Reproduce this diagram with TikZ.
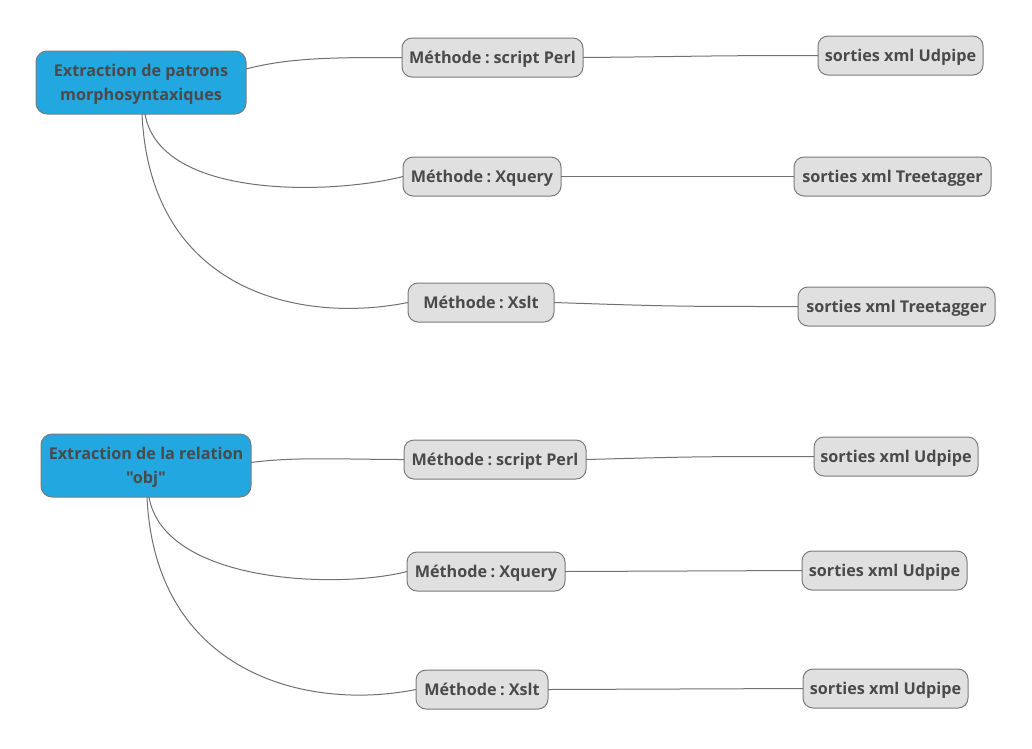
\documentclass[tikz,border=0pt]{standalone}
\usepackage{fontspec}
\newfontfamily\diagfont{Open Sans}
\newcommand{\colsep}{\hspace{3.5pt}:\hspace{4pt}}
\definecolor{txt}{HTML}{4A4A4A}
\definecolor{rootfill}{HTML}{22A7E0}
\definecolor{leaffill}{HTML}{E0E0E0}
\definecolor{bord}{HTML}{7A7A7A}
\definecolor{edge}{HTML}{707070}
\begin{document}
\begin{tikzpicture}[x=1pt,y=-1pt,
  every node/.style={font=\diagfont\fontsize{16.2}{24}\selectfont\bfseries, text=txt, inner sep=0pt, outer sep=0pt},
  rootbox/.style={draw=bord, line width=1pt, fill=rootfill, rounded corners=11pt, minimum height=63pt, align=center, text depth=0pt},
  leafbox/.style={draw=bord, line width=1pt, fill=leaffill, rounded corners=10pt, minimum height=39pt, align=center,
    text height=13pt, text depth=1pt},
  conn/.style={draw=edge, line width=1pt}]
\useasboundingbox (0,0) rectangle (1032,748);
% top tree
\node[rootbox, minimum width=210pt] (r1) at (141,82.5) {Extraction de patrons\\morphosyntaxiques};
\node[leafbox, minimum width=181pt] (m11) at (492.5,57.5) {Méthode\colsep script Perl};
\node[leafbox, minimum width=165pt] (s11) at (900.5,55.5) {sorties xml Udpipe};
\node[leafbox, minimum width=158pt] (m12) at (482,176.5) {Méthode\colsep Xquery};
\node[leafbox, minimum width=197pt] (s12) at (892.5,176.5) {sorties xml Treetagger};
\node[leafbox, minimum width=146pt] (m13) at (481,302.5) {Méthode\colsep Xslt};
\node[leafbox, minimum width=197pt] (s13) at (896.5,306.5) {sorties xml Treetagger};
% bottom tree
\node[rootbox, minimum width=210pt] (r2) at (146,465.5) {Extraction de la relation\\"obj"};
\node[leafbox, minimum width=182pt] (m21) at (495,459.5) {Méthode\colsep script Perl};
\node[leafbox, minimum width=164pt] (s21) at (896,456.5) {sorties xml Udpipe};
\node[leafbox, minimum width=158pt] (m22) at (486,571.5) {Méthode\colsep Xquery};
\node[leafbox, minimum width=165pt] (s22) at (884.5,570.5) {sorties xml Udpipe};
\node[leafbox, minimum width=132pt] (m23) at (482,689.5) {Méthode\colsep Xslt};
\node[leafbox, minimum width=165pt] (s23) at (885.5,688.5) {sorties xml Udpipe};
% connectors top
\draw[conn] ([yshift=13.5pt]r1.east) .. controls +(45,-12) and +(-60,0) .. (m11.west);
\draw[conn] ([xshift=4pt]r1.south) .. controls +(15,86) and +(-70,18) .. (m12.west);
\draw[conn] ([xshift=1pt]r1.south) .. controls +(8,176) and +(-110,22) .. (m13.west);
\draw[conn] (m11.east) .. controls +(117,-1) and +(-117,0) .. (s11.west);
\draw[conn] (m12.east) -- (s12.west);
\draw[conn] (m13.east) .. controls +(120,4) and +(-120,0) .. (s13.west);
% connectors bottom
\draw[conn] ([yshift=3pt]r2.east) .. controls +(45,-6) and +(-60,0) .. (m21.west);
\draw[conn] ([xshift=3pt]r2.south) .. controls +(15,86) and +(-70,18) .. (m22.west);
\draw[conn] ([xshift=1pt]r2.south) .. controls +(8,176) and +(-110,22) .. (m23.west);
\draw[conn] (m21.east) .. controls +(113,-3) and +(-113,0) .. (s21.west);
\draw[conn] (m22.east) .. controls +(118,-1) and +(-118,0) .. (s22.west);
\draw[conn] (m23.east) .. controls +(127,-1) and +(-127,0) .. (s23.west);
\end{tikzpicture}
\end{document}
